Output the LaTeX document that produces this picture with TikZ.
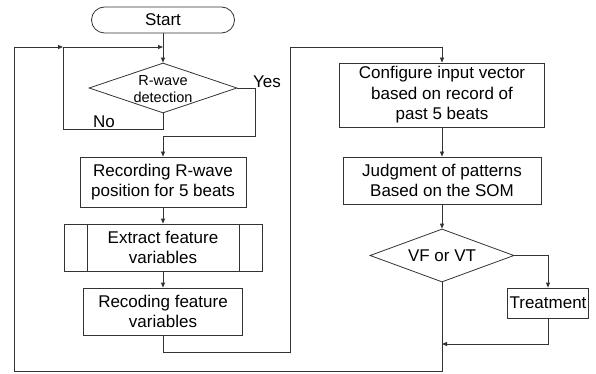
\documentclass[tikz,border=0pt]{standalone}
\usepackage{fontspec}
\setmainfont{Liberation Sans}
\usetikzlibrary{shapes.geometric,arrows.meta}
\begin{document}
\begin{tikzpicture}[x=1pt,y=-1pt,
  ln/.style={draw=black!80, line width=0.8pt},
  arr/.style={ln, -{Triangle[length=5pt,width=4pt]}},
  txt/.style={align=center, inner sep=0pt, font=\fontsize{17}{20.5}\selectfont},
  smalltxt/.style={align=center, inner sep=0pt, font=\fontsize{14.5}{17}\selectfont},
  box/.style={ln, rectangle, txt},
  term/.style={ln, rectangle, rounded corners=13pt, txt},
  dec/.style={ln, diamond, inner sep=0pt, txt}]
\useasboundingbox (0,0) rectangle (596,374);
% left column
\node[term, minimum width=143pt, minimum height=26pt] (start) at (163,20) {Start};
\node[dec, minimum width=148pt, minimum height=50pt] (det) at (163,88) {};
\node[smalltxt] (dett) at (163,89) {R-wave\\detection};
\node[box, minimum width=166pt, minimum height=50pt] (rec) at (163,182) {Recording R-wave\\position for 5 beats};
\node[box, minimum width=198pt, minimum height=47pt] (ext) at (163,247.5) {Extract feature\\variables};
\draw[ln] ([xshift=24pt]ext.north west) -- ([xshift=24pt]ext.south west);
\draw[ln] ([xshift=-23pt]ext.north east) -- ([xshift=-23pt]ext.south east);
\node[box, minimum width=159pt, minimum height=47pt] (rcd) at (163,311.5) {Recoding feature\\variables};
% right column
\node[box, minimum width=205pt, minimum height=64pt] (conf) at (442,95) {Configure input vector\\based on record of\\past 5 beats};
\node[box, minimum width=198pt, minimum height=47pt] (judg) at (442,180.5) {Judgment of patterns\\Based on the SOM};
\node[dec, minimum width=144pt, minimum height=53pt] (vf) at (442,255.5) {};
\node[txt] (vft) at (442,256) {VF or VT};
\node[box, minimum width=81pt, minimum height=30pt] (treat) at (548,303) {Treatment};
% labels
\node[txt] (yes) at (267,82) {Yes};
\node[txt] (no) at (104,122) {No};
% coordinates
\coordinate (top) at (163,47);
\coordinate (nl) at (63,47);
\coordinate (nb) at (63,129);
\coordinate (yr) at (255,136);
\coordinate (rb) at (290,352);
\coordinate (rt) at (290,47);
\coordinate (mrg) at (442,344);
\coordinate (ob) at (14,371);
\coordinate (ot) at (14,47);
% connectors
\draw[arr] (start) -- (det);
\draw[arr] (det.south) |- (nb) -- (nl) -- (top);
\draw[arr] (det.east) -| (yr) -| (rec.north);
\draw[arr] (rec) -- (ext);
\draw[arr] (ext) -- (rcd);
\draw[arr] (rcd.south) |- (rb) -- (rt) -| (conf.north);
\draw[arr] (conf) -- (judg);
\draw[arr] (judg) -- (vf);
\draw[arr] (vf.east) -| (treat.north);
\draw[arr] (treat.south) |- (mrg);
\draw[arr] (vf.south) |- (ob) -- (ot) -- (nl);
\end{tikzpicture}
\end{document}
